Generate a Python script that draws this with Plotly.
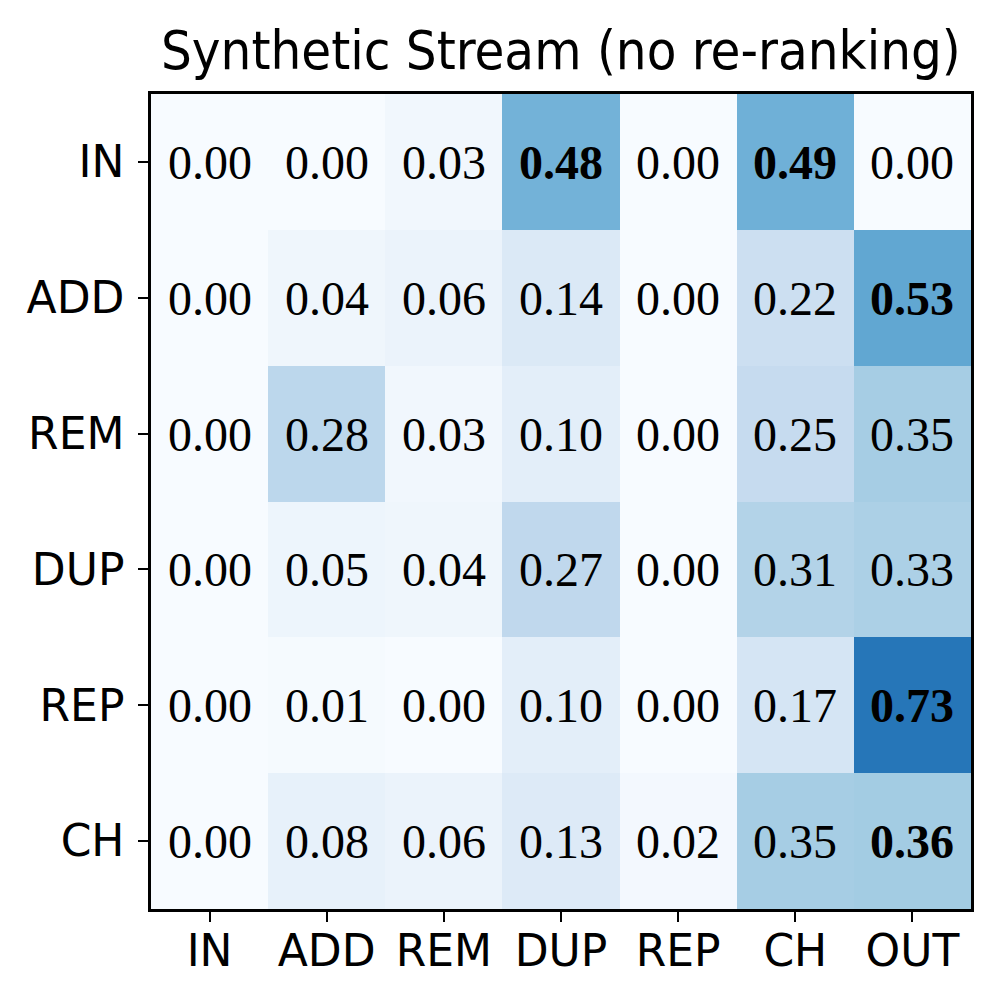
import plotly.graph_objects as go

rows = ["IN", "ADD", "REM", "DUP", "REP", "CH"]
cols = ["IN", "ADD", "REM", "DUP", "REP", "CH", "OUT"]
values = [
    [0.00, 0.00, 0.03, 0.48, 0.00, 0.49, 0.00],
    [0.00, 0.04, 0.06, 0.14, 0.00, 0.22, 0.53],
    [0.00, 0.28, 0.03, 0.10, 0.00, 0.25, 0.35],
    [0.00, 0.05, 0.04, 0.27, 0.00, 0.31, 0.33],
    [0.00, 0.01, 0.00, 0.10, 0.00, 0.17, 0.73],
    [0.00, 0.08, 0.06, 0.13, 0.02, 0.35, 0.36],
]
bold = [
    [0, 0, 0, 1, 0, 1, 0],
    [0, 0, 0, 0, 0, 0, 1],
    [0, 0, 0, 0, 0, 0, 0],
    [0, 0, 0, 0, 0, 0, 0],
    [0, 0, 0, 0, 0, 0, 1],
    [0, 0, 0, 0, 0, 0, 1],
]
title = "Synthetic Stream (no re-ranking)"

blues = ["rgb(247,251,255)", "rgb(222,235,247)", "rgb(198,219,239)",
         "rgb(158,202,225)", "rgb(107,174,214)", "rgb(66,146,198)",
         "rgb(33,113,181)", "rgb(8,81,156)", "rgb(8,48,107)"]
colorscale = [[i / (len(blues) - 1), c] for i, c in enumerate(blues)]

text = [[("<b>%.2f</b>" if b else "%.2f") % v for v, b in zip(vr, br)]
        for vr, br in zip(values, bold)]

fig = go.Figure(go.Heatmap(
    z=values, x=cols, y=rows, text=text, texttemplate="%{text}",
    textfont=dict(family="Liberation Serif", size=48, color="black"),
    colorscale=colorscale, zmin=0, zmax=1, showscale=False,
    hoverinfo="skip",
))

axis_common = dict(
    showline=True, linewidth=2.5, linecolor="black", mirror=True,
    ticks="outside", ticklen=10, tickwidth=2, tickcolor="black",
    tickfont=dict(family="DejaVu Sans", size=44, color="black"),
    showgrid=False, zeroline=False,
)
fig.update_xaxes(ticklabelstandoff=-9, **axis_common)
fig.update_yaxes(autorange="reversed", ticklabelstandoff=5, **axis_common)

fig.update_layout(
    width=998, height=1003,
    margin=dict(l=143, r=35, t=86, b=102),
    paper_bgcolor="white", plot_bgcolor="white",
    title=dict(text=title, x=0.554, xanchor="center", y=0.958, yanchor="middle",
               font=dict(family="DejaVu Sans Condensed, DejaVu Sans", size=54, color="black")),
)

fig.write_html("out.html")
